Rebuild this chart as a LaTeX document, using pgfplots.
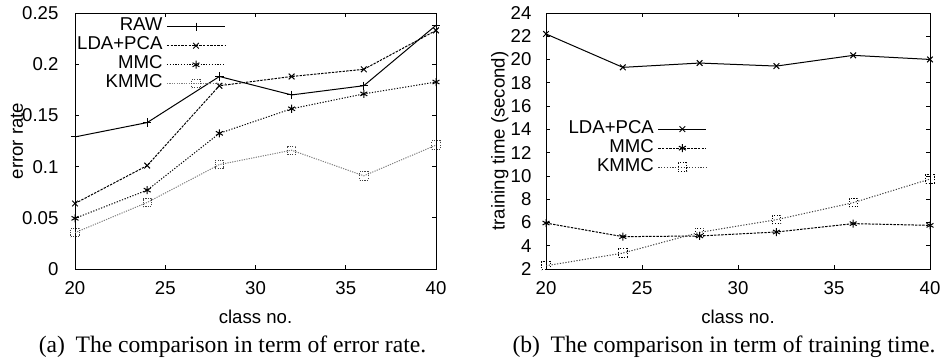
\documentclass[border=0pt]{standalone}
\usepackage{fontspec}
\setmainfont{Liberation Sans}
\newfontfamily\capfont{Liberation Serif}
\usepackage{pgfplots}
\pgfplotsset{compat=1.18}

\pgfplotstableread{
x   raw    lda    mmc    kmmc
20  0.129  0.064  0.0495 0.0355
24  0.143  0.101  0.077  0.065
28  0.188  0.179  0.1325 0.102
32  0.170  0.188  0.1565 0.116
36  0.179  0.195  0.171  0.091
40  0.238  0.233  0.1826 0.121
}\errtable

\pgfplotstableread{
x   lda    mmc   kmmc
20  22.2   5.95  2.28
24  19.33  4.78  3.37
28  19.7   4.84  5.15
32  19.44  5.18  6.24
36  20.36  5.9   7.7
40  20.01  5.75  9.73
}\timetable

\newcommand{\axfont}{\fontsize{9.3}{11}\selectfont}

\begin{document}
\axfont
\begin{tikzpicture}
\useasboundingbox (0pt,0pt) rectangle (472.5pt,-180pt);
\pgfplotsset{
  gp/.style={
    scale only axis, height=128pt,
    xmin=20, xmax=40, xtick={20,25,...,40},
    tick align=inside, major tick length=2.2pt,
    every tick/.style={black, line width=0.4pt},
    axis line style={line width=0.5pt},
    /pgf/number format/assume math mode=true,
    scaled ticks=false,
    tick label style={font=\axfont},
    xticklabel style={anchor=center, yshift=-9.5pt},
    label style={font=\axfont},
    xlabel={class no.},
    xlabel style={at={(axis description cs:0.5,-0.1875)}, anchor=center},
    legend style={draw=none, fill=none, font=\axfont, inner sep=0pt, row sep=0pt,
      nodes={inner ysep=0pt, text height=6.7pt, text depth=2.8pt}},
    legend cell align=right,
    legend plot pos=right,
    every axis plot/.append style={line width=0.5pt, mark options={solid}},
  },
  legw/.style={legend image code/.code={%
    \draw[mark repeat=2,mark phase=2,##1] plot coordinates {(0pt,0pt) (#1/2,0pt) (#1,0pt)};}},
}
\begin{axis}[gp, width=180.5pt, at={(37.5pt,-6.5pt)}, anchor=north west,
  ymin=0, ymax=0.25, ytick={0,0.05,...,0.25},
  yticklabels={0,0.05,0.1,0.15,0.2,0.25},
  yticklabel style={anchor=east, xshift=-5pt},
  ylabel={error rate},
  ylabel style={at={(axis description cs:-0.1607,0.5)}, anchor=center, rotate=0},
  legw=29pt,
  legend style={at={(rel axis cs:0.418,0.985)}, anchor=north east},
]
\addplot[black, mark=+, mark size=2.1pt] table[x=x,y=raw] {\errtable};
\addlegendentry{RAW}
\addplot[black, dash pattern=on 1.2pt off 0.6pt, mark=x, mark size=2pt] table[x=x,y=lda] {\errtable};
\addlegendentry{LDA+PCA}
\addplot[black, dash pattern=on 0.6pt off 0.8pt, mark=asterisk, mark size=2pt] table[x=x,y=mmc] {\errtable};
\addlegendentry{MMC}
\addplot[black!50, dash pattern=on 0.6pt off 0.6pt, mark=square, mark size=2.1pt, mark options={black!75}] table[x=x,y=kmmc] {\errtable};
\addlegendentry{KMMC}
\end{axis}

\begin{axis}[gp, width=192pt, at={(273pt,-6.5pt)}, anchor=north west,
  ymin=2, ymax=24, ytick={2,4,...,24},
  yticklabel style={anchor=east, xshift=-4pt},
  ylabel={training time (second)},
  ylabel style={at={(axis description cs:-0.12,0.5)}, anchor=center, rotate=0},
  legw=24pt,
  legend style={at={(rel axis cs:0.42,0.585)}, anchor=north east},
]
\addplot[black, mark=x, mark size=2pt] table[x=x,y=lda] {\timetable};
\addlegendentry{LDA+PCA}
\addplot[black, dash pattern=on 1.2pt off 0.6pt, mark=asterisk, mark size=2pt] table[x=x,y=mmc] {\timetable};
\addlegendentry{MMC}
\addplot[black!75, dash pattern=on 0.6pt off 0.8pt, mark=square, mark size=2.1pt, mark options={black}] table[x=x,y=kmmc] {\timetable};
\addlegendentry{KMMC}
\end{axis}

\node[font=\capfont\fontsize{11.8}{13}\selectfont] at (116.25pt,-173.5pt) {(a)\hspace{0.45em}The comparison in term of error rate.};
\node[font=\capfont\fontsize{11.8}{13}\selectfont] at (362pt,-173.5pt) {(b)\hspace{0.45em}The comparison in term of training time.};
\end{tikzpicture}
\end{document}
